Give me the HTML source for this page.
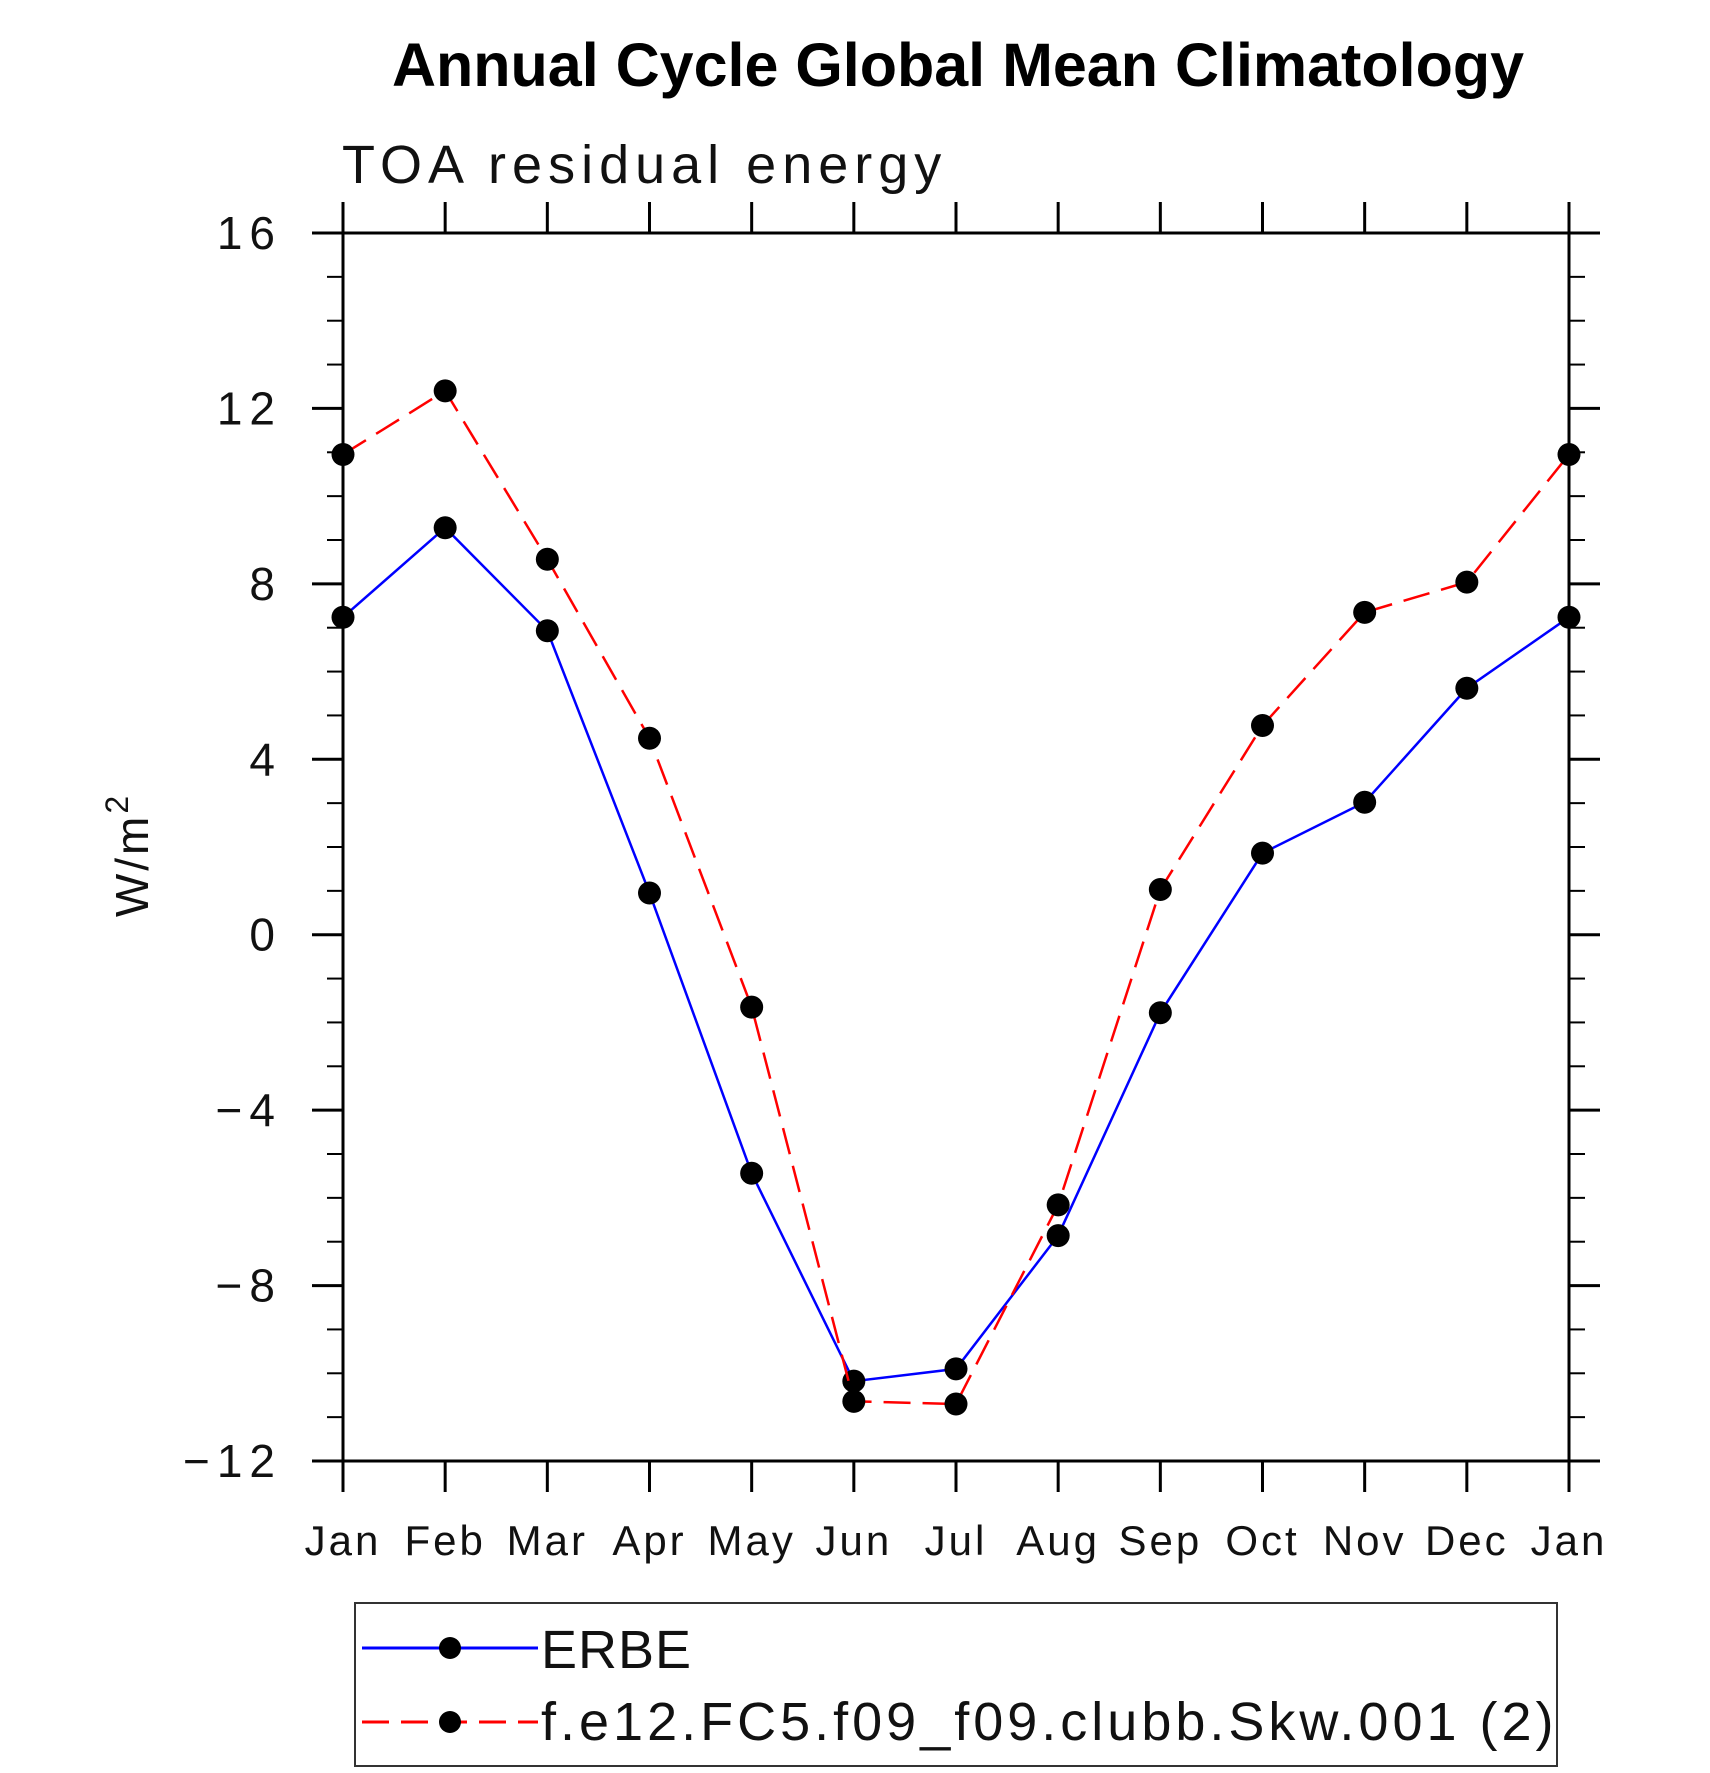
<!DOCTYPE html>
<html><head><meta charset="utf-8"><style>
body{margin:0;background:#fff;}
svg{display:block;font-family:"Liberation Sans",sans-serif;}
</style></head><body>
<svg id="chart" width="1710" height="1773" viewBox="0 0 1710 1773" xmlns="http://www.w3.org/2000/svg">
<text x="958" y="86" text-anchor="middle" font-size="61" font-weight="bold">Annual Cycle Global Mean Climatology</text>
<text x="342" y="183" font-size="54" letter-spacing="6" fill="#111">TOA residual energy</text>
<text transform="translate(148,855) rotate(-90)" text-anchor="middle" font-size="46" letter-spacing="3" fill="#111">W/m<tspan dy="-20" font-size="32">2</tspan></text>
<g id="axes"></g>
<g id="series"></g>
<rect x="355" y="1603" width="1202" height="163" fill="none" stroke="#333" stroke-width="2"/>
<g>
<line x1="362" y1="1648" x2="538" y2="1648" stroke="#0000ff" stroke-width="3"/>
<circle cx="450" cy="1648" r="11" fill="#000"/>
<text x="541" y="1668" font-size="54" fill="#111" letter-spacing="1">ERBE</text>
</g>
<g>
<line x1="362" y1="1722" x2="538" y2="1722" stroke="#ff0000" stroke-width="3" stroke-dasharray="27 12"/>
<circle cx="450" cy="1722" r="11" fill="#000"/>
<text x="541" y="1740" font-size="54" fill="#111" letter-spacing="4">f.e12.FC5.f09_f09.clubb.Skw.001 (2)</text>
</g>
</svg>
<script>
const months = ["Jan","Feb","Mar","Apr","May","Jun","Jul","Aug","Sep","Oct","Nov","Dec","Jan"];
const erbeValues = [7.24,9.28,6.93,0.95,-5.44,-10.18,-9.9,-6.86,-1.78,1.86,3.02,5.62,7.24];
const modelValues = [10.95,12.4,8.56,4.48,-1.65,-10.64,-10.7,-6.16,1.03,4.77,7.35,8.04,10.95];
const yTicks = [16,12,8,4,0,-4,-8,-12];
const yTickLabels = ["16","12","8","4","0","\u22124","\u22128","\u221212"];

const NS="http://www.w3.org/2000/svg";
const X0=343,X1=1569,Y0=233,Y1=1461,YMAX=16,YMIN=-12;
function xs(i){return X0+(X1-X0)*i/(months.length-1);}
function ys(v){return Y0+(YMAX-v)*(Y1-Y0)/(YMAX-YMIN);}
function mk(tag,attrs,parent){const e=document.createElementNS(NS,tag);for(const k in attrs)e.setAttribute(k,attrs[k]);parent.appendChild(e);return e;}
const axes=document.getElementById('axes');
const frame=mk('rect',{x:X0,y:Y0,width:X1-X0,height:Y1-Y0,fill:'none',stroke:'#000','stroke-width':3},axes);


months.forEach((m,i)=>{
  const x=xs(i);
  mk('line',{x1:x,y1:Y1,x2:x,y2:Y1+31,stroke:'#000','stroke-width':3},axes);
  mk('line',{x1:x,y1:Y0,x2:x,y2:Y0-31,stroke:'#000','stroke-width':3},axes);
  const t=mk('text',{x:x,y:1555,'text-anchor':'middle','font-size':42,fill:'#111','letter-spacing':3},axes);
  t.textContent=m;
  
  
});
for(let v=YMIN;v<=YMAX;v++){
  const y=ys(v);const major=(v%4===0);const L=major?31:16;
  mk('line',{x1:X0-L,y1:y,x2:X0,y2:y,stroke:'#000','stroke-width':major?3:2},axes);
  mk('line',{x1:X1,y1:y,x2:X1+L,y2:y,stroke:'#000','stroke-width':major?3:2},axes);
}
yTicks.forEach((v,i)=>{
  const t=mk('text',{x:282,y:ys(v)+16,'text-anchor':'end','font-size':46,fill:'#111','letter-spacing':7},axes);
  t.textContent=yTickLabels[i];
  
  
});
const series=document.getElementById('series');
function drawSeries(vals,color,dash,name){
  const g=mk('g',{},series);
  
  
  const pts=vals.map((v,i)=>xs(i)+','+ys(v)).join(' ');
  const pl=mk('polyline',{points:pts,fill:'none',stroke:color,'stroke-width':2.5},g);
  if(dash)pl.setAttribute('stroke-dasharray',dash);
  vals.forEach((v,i)=>{
    const c=mk('circle',{cx:xs(i),cy:ys(v),r:11.5,fill:'#000'},g);
    
    
  });
}
drawSeries(erbeValues,'#0000ff',null,'erbe-series');
drawSeries(modelValues,'#ff0000','27 12','model-series');
</script>
</body></html>
